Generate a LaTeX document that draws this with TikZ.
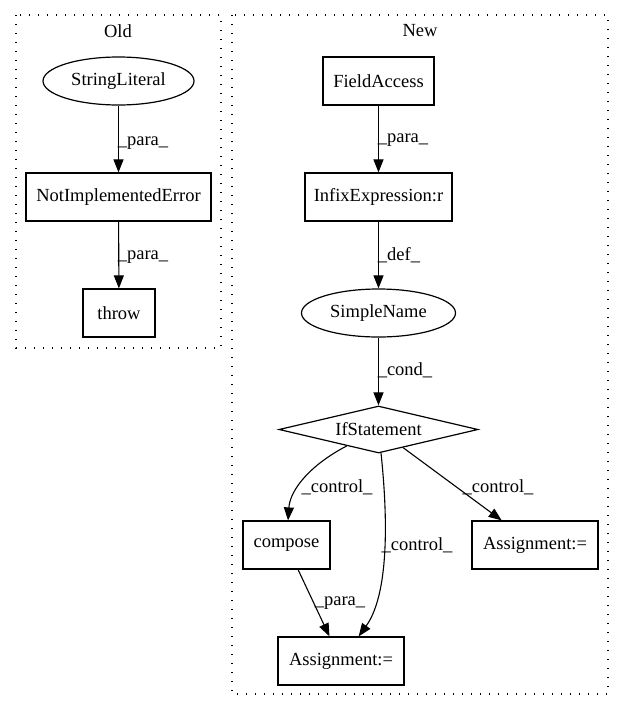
\documentclass[tikz,border=0pt]{standalone}
\usepackage{fontspec}
\setmainfont{Liberation Serif}
\usetikzlibrary{arrows.meta,shapes.geometric}
\begin{document}
\begin{tikzpicture}[x=1pt,y=-1pt,
  every node/.style={font=\fontsize{18.5}{22}\selectfont, inner sep=0pt},
  box/.style={draw, line width=1.2pt, rectangle},
  oval/.style={draw, line width=1.2pt, ellipse},
  dia/.style={draw, line width=1.2pt, diamond, aspect=4.2},
  cluster/.style={line width=1.3pt, dash pattern=on 1.3pt off 7.7pt},
  edge/.style={line width=1.1pt, -{Triangle[length=13pt,width=10pt]}},
  lab/.style={anchor=center}]
\useasboundingbox (0,0) rectangle (624,712);
% clusters
\draw[cluster] (16,15) rectangle (221,348);
\draw[cluster] (232,15) rectangle (608,694);
\node (oldt) at (118,31) {Old};
\node (newt) at (420,31) {New};
% Old nodes
\node[oval, minimum width=151pt, minimum height=48pt] (sl) at (118.5,81) {StringLiteral};
\node[box, minimum width=185pt, minimum height=48pt] (nie) at (118.5,197) {NotImplementedError};
\node[box, minimum width=72pt, minimum height=48pt] (thr) at (119,313) {throw};
% New nodes
\node[box, minimum width=111pt, minimum height=48pt] (fa) at (378.5,81) {FieldAccess};
\node[box, minimum width=147pt, minimum height=48pt] (ie) at (378.5,197) {InfixExpression:r};
\node[oval, minimum width=154pt, minimum height=48pt] (sn) at (378.5,313) {SimpleName};
\node[dia, minimum width=199pt, minimum height=47pt] (if) at (378.5,429.5) {IfStatement};
\node[box, minimum width=87pt, minimum height=48pt] (co) at (286.5,545) {compose};
\node[box, minimum width=126pt, minimum height=48pt] (ar) at (535,545) {Assignment:=};
\node[box, minimum width=126pt, minimum height=48pt] (ab) at (341,661) {Assignment:=};
% Old edges
\draw[edge] (sl) -- (nie);
\node[lab] (l1) at (143,143) {\_para\_};
\draw[edge] (nie) -- (thr);
\node[lab] (l2) at (143,257) {\_para\_};
% New edges
\draw[edge] (fa) -- (ie);
\node[lab] (l3) at (403,140) {\_para\_};
\draw[edge] (ie) -- (sn);
\node[lab] (l4) at (399,255) {\_def\_};
\draw[edge] (sn) -- (if);
\node[lab] (l5) at (405,370) {\_cond\_};
\draw[edge] (if) .. controls (310,465) and (290,490) .. (co);
\node[lab] (l6) at (337,487) {\_control\_};
\draw[edge] (if) .. controls (386,500) and (392,590) .. (ab);
\node[lab] (l7) at (417,545) {\_control\_};
\draw[edge] (if) -- (ar);
\node[lab] (l8) at (498,487) {\_control\_};
\draw[edge] (co) -- (ab);
\node[lab] (l9) at (340,603) {\_para\_};
\end{tikzpicture}
\end{document}
